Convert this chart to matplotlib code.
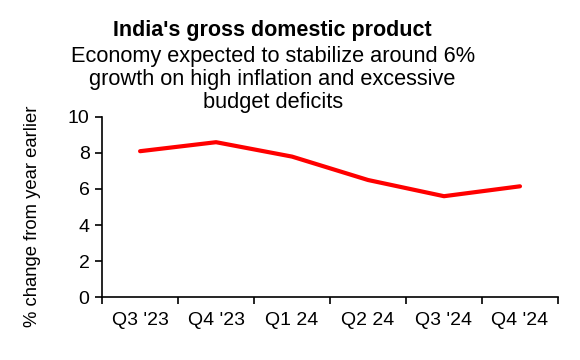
import numpy as np
import matplotlib.pyplot as plt

plt.rcParams['font.family'] = ['Liberation Sans', 'DejaVu Sans']

quarters = ["Q3 '23", "Q4 '23", "Q1 24", "Q2 24", "Q3 '24", "Q4 '24"]
gdp_growth = [8.1, 8.6, 7.8, 6.5, 5.6, 6.15]

title = "India's gross domestic product"
subtitle_lines = ["Economy expected to stabilize around 6%",
                  "growth on high inflation and excessive",
                  "budget deficits"]

fig = plt.figure(figsize=(5.8, 3.6), dpi=100)
ax = fig.add_axes([0.176, 0.175, 0.786, 0.5])

x = np.arange(len(quarters))
ax.plot(x, gdp_growth, color='#ff0000', linewidth=3, solid_joinstyle='round', solid_capstyle='round')

ax.set_xlim(-0.5, len(quarters) - 0.5)
ax.set_ylim(0, 10)
ax.set_yticks([0, 2, 4, 6, 8, 10])
ax.set_xticks(np.arange(-0.5, len(quarters), 1.0))
ax.set_xticklabels([])
ax.set_xticks(x, minor=True)
ax.set_xticklabels(quarters, minor=True)
ax.tick_params(axis='x', which='minor', length=0, labelsize=14, pad=11)
ax.tick_params(axis='x', which='major', length=5, width=1.2, direction='out')
ax.tick_params(axis='y', length=5, width=1.2, direction='out', labelsize=14, pad=4)

for s in ['top', 'right']:
    ax.spines[s].set_visible(False)
for s in ['left', 'bottom']:
    ax.spines[s].set_linewidth(1.2)

ax.set_ylabel('% change from year earlier', fontsize=13.3)
ax.yaxis.set_label_coords(-0.133, 0.45)

fig.text(0.47, 0.915, title, ha='center', va='center', fontsize=15.5, fontweight='bold')
# subtitle lines placed one by one (about 23 px apart)
for i, line in enumerate(subtitle_lines):
    fig.text(0.47, 0.842 - i * 0.064, line, ha='center', va='center', fontsize=15.7)

fig.savefig('out.png', dpi=100)
